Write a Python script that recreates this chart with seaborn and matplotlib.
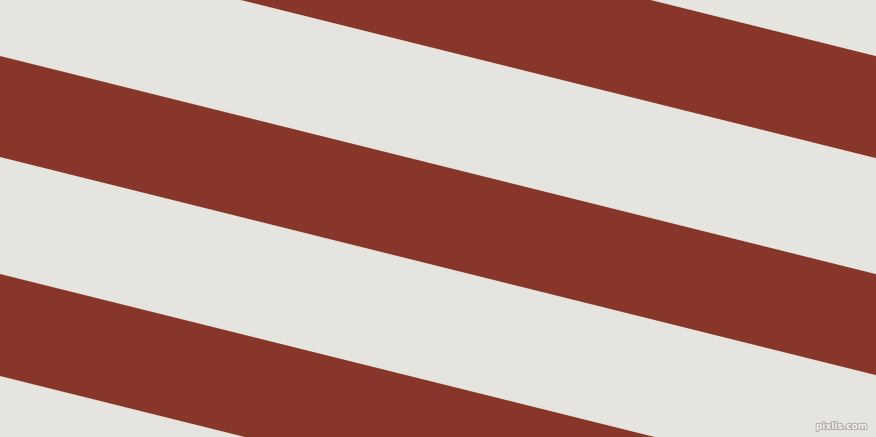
import matplotlib.pyplot as plt
import matplotlib.patheffects as pe
import seaborn as sns
import numpy as np

sns.set_style("white")

# stripe edges, y (pixels from top) where each red band meets the left edge
band_top = [-162, 56, 274]
band_bottom = [-60, 157, 376]
slope = 0.249

red = "#873629"
light = "#E6E4DF"

fig = plt.figure(figsize=(8.76, 4.37), dpi=100)
ax = fig.add_axes([0, 0, 1, 1])
ax.set_facecolor(light)

x = np.array([0, 876])
for top, bot in zip(band_top, band_bottom):
    ax.fill_between(x, top + slope * x, bot + slope * x, color=red, linewidth=0)

ax.set_xlim(0, 876)
ax.set_ylim(437, 0)
ax.axis("off")
fig.patch.set_facecolor(light)

ax.text(867, 431, "pixlis.com", ha="right", va="bottom", fontsize=6.5,
        color="#f4f2ef", fontweight="bold",
        path_effects=[pe.withStroke(linewidth=1.5, foreground="#b8aeae")])

fig.savefig("out.png", dpi=100, facecolor=light)
